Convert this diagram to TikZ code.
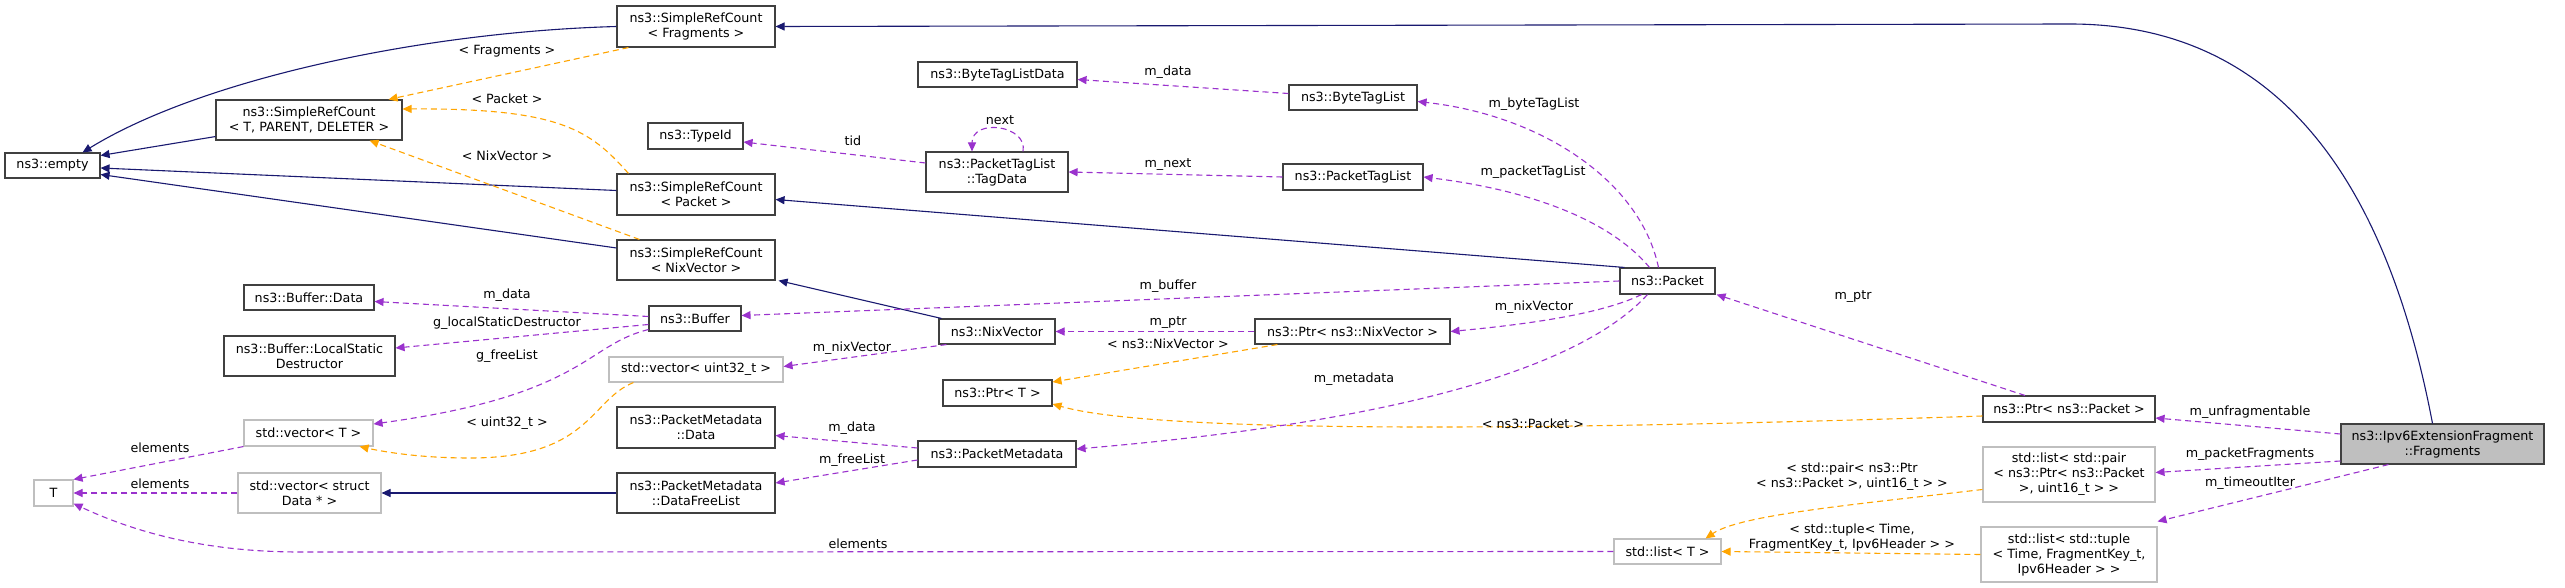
\documentclass[tikz,border=0pt]{standalone}
\usepackage{fontspec}
\setmainfont{DejaVu Sans}
\usetikzlibrary{arrows.meta}
\definecolor{navy}{HTML}{191970}
\definecolor{orng}{HTML}{FFA500}
\definecolor{purp}{HTML}{9A32CD}
\definecolor{gbox}{HTML}{BFBFBF}
\begin{document}
\begin{tikzpicture}[x=1pt,y=-1pt,
  every node/.style={font=\fontsize{12.7}{15}\selectfont, inner sep=0pt, align=center},
  box/.style={draw=black!75, line width=1.1pt, fill=white},
  gbox/.style={draw=gbox, line width=1.1pt, fill=white},
  tip/.style={-{Triangle[length=9pt,width=8pt]}},
  inh/.style={tip, draw=navy, line width=1.1pt},
  tmpl/.style={tip, draw=orng, fill=none, line width=1.1pt, dash pattern=on 6pt off 4pt, arrows={-{Triangle[length=9pt,width=8pt,fill=orng]}}},
  use/.style={tip, draw=purp, line width=1.1pt, dash pattern=on 6pt off 4pt, arrows={-{Triangle[length=9pt,width=8pt,fill=purp]}}},
  lbl/.style={fill=none}]
\useasboundingbox (0,0) rectangle (2565,588);
\fill[white] (0,0) rectangle (2565,588);
% nodes
\node[box, minimum width=95pt, minimum height=25pt] (empty) at (52.5,165.5) {ns3::empty};
\node[box, minimum width=186pt, minimum height=40pt] (srctpd) at (309,120) {ns3::SimpleRefCount\\< T, PARENT, DELETER >};
\node[box, minimum width=158pt, minimum height=41pt] (srcfrag) at (696,26.5) {ns3::SimpleRefCount\\< Fragments >};
\node[box, minimum width=158pt, minimum height=41pt] (srcpacket) at (696,194.5) {ns3::SimpleRefCount\\< Packet >};
\node[box, minimum width=158pt, minimum height=40pt] (srcnix) at (696,260) {ns3::SimpleRefCount\\< NixVector >};
\node[box, minimum width=95pt, minimum height=26pt] (typeid) at (695.5,136) {ns3::TypeId};
\node[box, minimum width=130pt, minimum height=25pt] (bufdata) at (309,297.5) {ns3::Buffer::Data};
\node[box, minimum width=171pt, minimum height=40pt] (buflsd) at (309.5,356) {ns3::Buffer::LocalStatic\\Destructor};
\node[box, minimum width=92pt, minimum height=25pt] (buffer) at (695,318.5) {ns3::Buffer};
\node[gbox, minimum width=174pt, minimum height=25pt] (vecu32) at (696,369.5) {std::vector< uint32\_t >};
\node[gbox, minimum width=129pt, minimum height=26pt] (vect) at (308.5,433) {std::vector< T >};
\node[box, minimum width=158pt, minimum height=41pt] (pmdata) at (696,427.5) {ns3::PacketMetadata\\::Data};
\node[box, minimum width=158pt, minimum height=40pt] (pmdfl) at (696,493) {ns3::PacketMetadata\\::DataFreeList};
\node[gbox, minimum width=143pt, minimum height=40pt] (vecstruct) at (309.5,493) {std::vector< struct\\Data * >};
\node[gbox, minimum width=39pt, minimum height=26pt] (T) at (53.5,493) {T};
\node[box, minimum width=159pt, minimum height=25pt] (btld) at (997.5,74.5) {ns3::ByteTagListData};
\node[box, minimum width=128pt, minimum height=25pt] (btl) at (1353,97.5) {ns3::ByteTagList};
\node[box, minimum width=142pt, minimum height=40pt] (tagdata) at (997,172) {ns3::PacketTagList\\::TagData};
\node[box, minimum width=140pt, minimum height=26pt] (ptl) at (1353,177) {ns3::PacketTagList};
\node[box, minimum width=95pt, minimum height=26pt] (packet) at (1667.5,281) {ns3::Packet};
\node[box, minimum width=116pt, minimum height=25pt] (nixvector) at (997,331.5) {ns3::NixVector};
\node[box, minimum width=195pt, minimum height=25pt] (ptrnix) at (1352.5,331.5) {ns3::Ptr< ns3::NixVector >};
\node[box, minimum width=109pt, minimum height=26pt] (ptrt) at (997.5,393) {ns3::Ptr< T >};
\node[box, minimum width=158pt, minimum height=26pt] (pmeta) at (997,454) {ns3::PacketMetadata};
\node[gbox, minimum width=107pt, minimum height=25pt] (listt) at (1667.5,551.5) {std::list< T >};
\node[box, minimum width=172pt, minimum height=26pt] (ptrpacket) at (2069,409) {ns3::Ptr< ns3::Packet >};
\node[draw=black!75, line width=1.1pt, fill=gbox, minimum width=203pt, minimum height=40pt] (frag) at (2442.5,444) {ns3::Ipv6ExtensionFragment\\::Fragments};
\node[gbox, minimum width=172pt, minimum height=55pt] (listpair) at (2069,474.5) {std::list< std::pair\\< ns3::Ptr< ns3::Packet\\>, uint16\_t > >};
\node[gbox, minimum width=176pt, minimum height=55pt] (listtuple) at (2069,554.5) {std::list< std::tuple\\< Time, FragmentKey\_t,\\Ipv6Header > >};
% inheritance
\draw[inh] (srcfrag.west) .. controls (420,32) and (200,80) .. ([xshift=-18pt]empty.north east);
\draw[inh] ([yshift=4pt]srctpd.south west) -- ([yshift=10pt]empty.east);
\draw[inh] ([yshift=4pt]srcpacket.west) -- ([yshift=-2.5pt]empty.east);
\draw[inh] ([yshift=12pt]srcnix.west) -- ([yshift=-9pt]empty.east);
\draw[inh] ([xshift=-10pt]frag.north) .. controls (2390,200) and (2290,24) .. (2070,24) -- (srcfrag.east);
\draw[inh] ([xshift=5pt]packet.north west) -- ([yshift=-5pt]srcpacket.east);
\draw[inh] ([xshift=3pt]nixvector.north west) -- ([xshift=3pt]srcnix.south east);
\draw[inh] (pmdfl.west) -- (vecstruct.east);
% templates
\draw[tmpl] ([xshift=12pt]srcfrag.south west) -- ([xshift=-14pt]srctpd.north east);
\node[lbl] (l1) at (507,51) {< Fragments >};
\draw[tmpl] ([xshift=12pt]srcpacket.north west) .. controls (590,130) and (560,108) .. ([yshift=11pt]srctpd.east);
\node[lbl] (l2) at (507,99) {< Packet >};
\draw[tmpl] ([xshift=23pt]srcnix.north west) -- ([xshift=-33pt]srctpd.south east);
\node[lbl] (l3) at (507,156) {< NixVector >};
\draw[tmpl] ([xshift=25pt]vecu32.south west) .. controls (590,400) and (590,458) .. (470,458) .. controls (420,458) and (385,452) .. ([xshift=-14pt]vect.south east);
\node[lbl] (l4) at (507,423) {< uint32\_t >};
\draw[tmpl] ([xshift=23pt]ptrnix.south west) -- ([yshift=11pt]ptrt.east);
\node[lbl] (l5) at (1168,344) {< ns3::NixVector >};
\draw[tmpl] ([yshift=-7pt]ptrpacket.west) .. controls (1500,432) and (1150,432) .. ([yshift=-11pt]ptrt.east);
\node[lbl] (l6) at (1533,424) {< ns3::Packet >};
\draw[tmpl] ([yshift=-15pt]listpair.west) .. controls (1850,505) and (1740,515) .. ([xshift=-16pt]listt.north east);
\node[lbl] (l7) at (1852,477) {< std::pair< ns3::Ptr\\< ns3::Packet >, uint16\_t > >};
\draw[tmpl] (listtuple.west) -- (listt.east);
\node[lbl] (l8) at (1852,538) {< std::tuple< Time,\\FragmentKey\_t, Ipv6Header > >};
% usage
\draw[use] ([yshift=2pt]buffer.west) -- ([yshift=-4pt]bufdata.east);
\node[lbl] (u1) at (507,295) {m\_data};
\draw[use] ([yshift=-6pt]buffer.west) -- ([yshift=8pt]buflsd.east);
\node[lbl] (u2) at (507,323) {g\_localStaticDestructor};
\draw[use] ([yshift=2pt]buffer.south west) .. controls (585,345) and (585,395) .. ([yshift=9pt]vect.east);
\node[lbl] (u3) at (507,356) {g\_freeList};
\draw[use] (vect.south west) -- (T.north east);
\node[lbl] (u4) at (160,448) {elements};
\draw[use] (vecstruct.west) -- (T.east);
\node[lbl] (u5) at (160,484) {elements};
\draw[use] (listt.west) -- (300,552) .. controls (200,552) and (130,530) .. ([yshift=3pt]T.south east);
\node[lbl] (u6) at (858,544) {elements};
\draw[use] ([yshift=9pt]tagdata.west) -- ([yshift=-6pt]typeid.east);
\node[lbl] (u7) at (853,141) {tid};
\draw[use] ([xshift=26pt]tagdata.north) .. controls (1028,125) and (972,118) .. ([xshift=-25pt]tagdata.north);
\node[lbl] (u8) at (1000,120) {next};
\draw[use] ([yshift=4pt]btl.west) -- ([yshift=-5pt]btld.east);
\node[lbl] (u9) at (1168,72) {m\_data};
\draw[use] (ptl.west) -- (tagdata.east);
\node[lbl] (u10) at (1168,165) {m\_next};
\draw[use] ([xshift=-9pt]packet.north) .. controls (1640,180) and (1540,115) .. ([yshift=-4pt]btl.east);
\node[lbl] (u11) at (1534,104) {m\_byteTagList};
\draw[use] ([xshift=-18pt]packet.north) .. controls (1610,220) and (1530,190) .. (ptl.east);
\node[lbl] (u12) at (1533,172) {m\_packetTagList};
\draw[use] (packet.west) -- ([yshift=3pt]buffer.east);
\node[lbl] (u13) at (1168,286) {m\_buffer};
\draw[use] ([xshift=-26pt]packet.south) .. controls (1600,315) and (1520,325) .. (ptrnix.east);
\node[lbl] (u14) at (1534,307) {m\_nixVector};
\draw[use] ([xshift=-20pt]packet.south) .. controls (1560,390) and (1300,430) .. ([yshift=5pt]pmeta.east);
\node[lbl] (u15) at (1354,379) {m\_metadata};
\draw[use] ([xshift=8pt]nixvector.south west) -- ([yshift=3pt]vecu32.east);
\node[lbl] (u16) at (852,348) {m\_nixVector};
\draw[use] (ptrnix.west) -- (nixvector.east);
\node[lbl] (u17) at (1168,323) {m\_ptr};
\draw[use] ([yshift=6pt]pmeta.west) -- ([yshift=-8pt]pmdata.east);
\node[lbl] (u18) at (852,428) {m\_data};
\draw[use] ([yshift=-6pt]pmeta.west) -- ([yshift=10pt]pmdfl.east);
\node[lbl] (u19) at (852,460) {m\_freeList};
\draw[use] ([xshift=-44pt]ptrpacket.north) -- ([xshift=1pt]packet.south east);
\node[lbl] (u20) at (1853,297) {m\_ptr};
\draw[use] ([yshift=10pt]frag.west) -- ([yshift=-9pt]ptrpacket.east);
\node[lbl] (u21) at (2250,412) {m\_unfragmentable};
\draw[use] ([yshift=-17pt]frag.west) -- ([yshift=2pt]listpair.east);
\node[lbl] (u22) at (2250,454) {m\_packetFragments};
\draw[use] ([xshift=-54pt]frag.south) -- ([yshift=5pt]listtuple.north east);
\node[lbl] (u23) at (2250,483) {m\_timeoutIter};
\end{tikzpicture}
\end{document}
